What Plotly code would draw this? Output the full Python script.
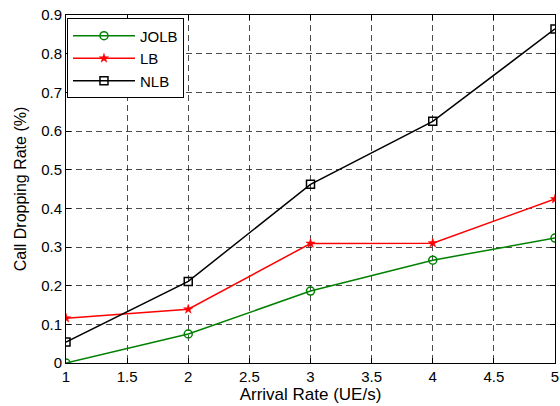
import plotly.graph_objects as go

x_vals = [1, 2, 3, 4, 5]
jolb = [0.0, 0.075, 0.186, 0.266, 0.323]
lb = [0.116, 0.139, 0.309, 0.31, 0.424]
nlb = [0.054, 0.211, 0.462, 0.625, 0.864]

x_ticks = [1, 1.5, 2, 2.5, 3, 3.5, 4, 4.5, 5]
x_ticklabels = ["1", "1.5", "2", "2.5", "3", "3.5", "4", "4.5", "5"]
y_ticks = [0, 0.1, 0.2, 0.3, 0.4, 0.5, 0.6, 0.7, 0.8, 0.9]
y_ticklabels = ["0", "0.1", "0.2", "0.3", "0.4", "0.5", "0.6", "0.7", "0.8", "0.9"]

FONT = "Liberation Sans, Arial"

fig = go.Figure()
fig.add_trace(go.Scatter(x=x_vals, y=jolb, name="JOLB", mode="lines+markers",
                         line=dict(color="#008000", width=1.5),
                         marker=dict(symbol="circle-open", size=8, color="#008000",
                                     line=dict(width=1.5, color="#008000"))))
fig.add_trace(go.Scatter(x=x_vals, y=lb, name="LB", mode="lines+markers",
                         line=dict(color="#ff0000", width=1.5),
                         marker=dict(symbol="star", size=7, color="#ff0000",
                                     line=dict(width=0.5, color="#ff0000"))))
fig.add_trace(go.Scatter(x=x_vals, y=nlb, name="NLB", mode="lines+markers",
                         line=dict(color="#000000", width=1.5),
                         marker=dict(symbol="square-open", size=8, color="#000000",
                                     line=dict(width=1.5, color="#000000"))))

axis_common = dict(
    showline=True, linecolor="black", linewidth=1, mirror="ticks",
    ticks="inside", ticklen=5, tickcolor="black",
    showgrid=True, gridcolor="rgba(0,0,0,0.7)", griddash="6px,4px", gridwidth=1,
    zeroline=False,
    tickfont=dict(family=FONT, size=15, color="black"),
    ticklabeloverflow="allow",
)

fig.update_xaxes(range=[1, 5], tickvals=x_ticks, ticktext=x_ticklabels,
                 title=dict(text="Arrival Rate (UE/s)", standoff=2,
                            font=dict(family=FONT, size=17, color="black")),
                 **axis_common)
fig.update_yaxes(range=[0, 0.9], tickvals=y_ticks, ticktext=y_ticklabels,
                 title=dict(text="Call Dropping Rate (%)", standoff=10,
                            font=dict(family=FONT, size=16, color="black")),
                 **axis_common)

fig.update_layout(
    width=560, height=406,
    margin=dict(l=66, r=1, t=15, b=43),
    plot_bgcolor="white", paper_bgcolor="white",
    legend=dict(x=0.002, y=0.99, xanchor="left", yanchor="top",
                bgcolor="white", bordercolor="black", borderwidth=1,
                font=dict(family=FONT, size=15, color="black"),
                tracegroupgap=0, itemwidth=62),
    font=dict(family=FONT),
)

fig.write_html("out.html", config={"displayModeBar": False},
               post_script="document.body.style.margin='0';")
